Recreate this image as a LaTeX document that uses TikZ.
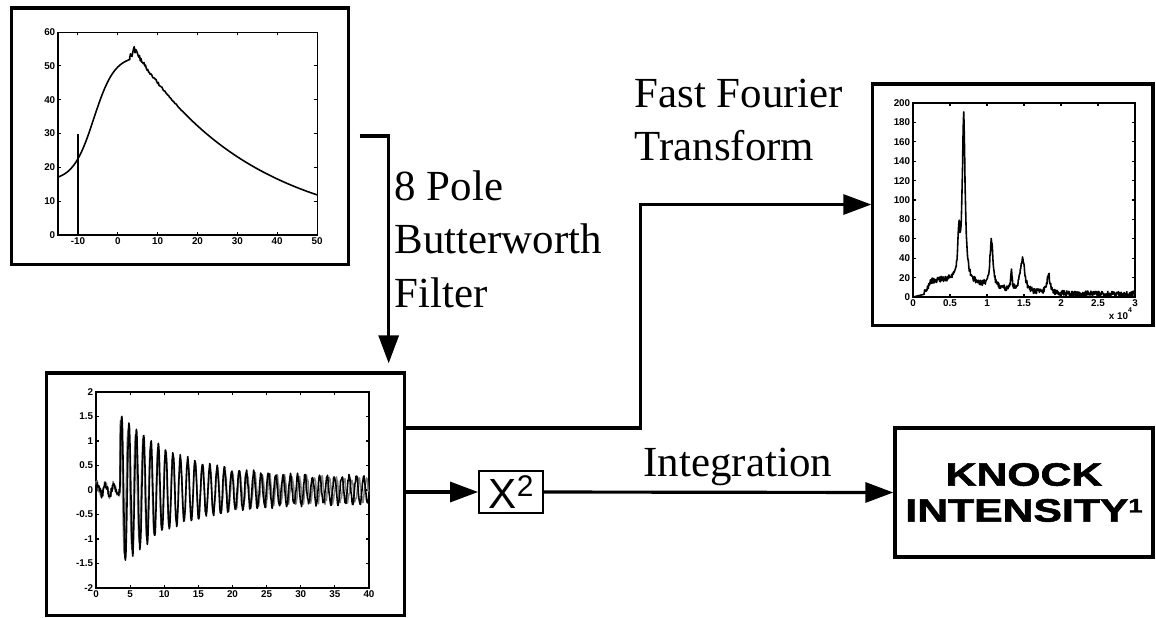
\documentclass[tikz,border=0pt]{standalone}
\usepackage{fontspec}
\setmainfont{Liberation Serif}
\setsansfont{Liberation Sans}
\newfontfamily\heavyfont[FakeBold=1.6]{Liberation Sans Bold}
\usetikzlibrary{arrows.meta,positioning}
\begin{document}
\begin{tikzpicture}[x=0.01cm,y=-0.01cm,
	frame/.style={draw,line width=0.9pt,inner sep=0pt},
	flow/.style={line width=0.9pt,-{Triangle[length=2.8mm,width=2mm]}},
	lbl/.style={font=\fontsize{12.2}{15.2}\selectfont,inner sep=0pt,align=left},
	tick/.style={font=\fontsize{2.8}{3}\sffamily\bfseries,inner sep=0.6pt},
	axis/.style={line width=0.3pt},
	trace/.style={line width=0.45pt,line join=round}]
	\useasboundingbox (0,0) rectangle (1156,617);
	\pgfmathsetseed{12}
	% frames
	\node[frame,minimum width=3.36cm,minimum height=2.56cm] (raw) at (180,136) {};
	\node[frame,minimum width=3.57cm,minimum height=2.42cm] (filt) at (225.5,494) {};
	\node[frame,minimum width=2.80cm,minimum height=2.41cm] (fft) at (1013,204.5) {};
	\node[draw,line width=0.5pt,minimum width=0.64cm,minimum height=0.42cm,inner sep=0pt,font=\fontsize{12}{14}\sffamily] (sq) at (511,492) {X\raisebox{3.2pt}{\fontsize{8.5}{9}\selectfont 2}};
	\node[frame,minimum width=2.58cm,minimum height=1.29cm,align=center,font=\fontsize{9.2}{10.2}\heavyfont] (knock) at (1024,492.5) {\scalebox{1.32}[1]{KNOCK}\\\scalebox{1.32}[1]{INTENSITY\raisebox{2.6pt}{\fontsize{5.5}{6}\selectfont 1}}};
	% connectors
	\draw[flow] ([xshift=1mm]raw.east) -| ([xshift=-1.7mm,yshift=0.8mm]filt.north east);
	\draw[flow] ([yshift=6.6mm]filt.east) -- ++(235,0) |- (fft.west);
	\draw[flow] (filt.east |- sq.west) -- (sq.west);
	\draw[flow] (sq.east) -- (knock.west);
	\node[lbl,anchor=north west] (bw) at (394,170) {8 Pole\\Butterworth\\Filter};
	\node[lbl,anchor=north west] (ff) at (634,78) {Fast Fourier\\Transform};
	\node[lbl,anchor=base west] (int) at (643,476) {Integration};
	% raw pressure trace
	\begin{scope}[shift={(117.8,235)},xscale=3.985,yscale=-3.383]
		\draw[axis] (-15,0) rectangle (50,60);
		\foreach \v [count=\i] in {-10,0,...,50}{
			\draw[axis] (\v,0) -- ++(0,0.9) (\v,60) -- ++(0,-0.9);
			\node[tick,below] (ra\i) at (\v,0) {\v};}
		\foreach \v [count=\i] in {0,10,...,60}{
			\draw[axis] (-15,\v) -- ++(0.75,0) (50,\v) -- ++(-0.75,0);
			\node[tick,left] (rb\i) at (-15,\v) {\v};}
		\draw[trace] (-10,0) -- (-10,30);
		\draw[trace] plot[domain=-15:3,samples=50] (\x,{16+37/(1+exp(-(\x+6)/2.6))})
			-- plot[domain=3:16,samples=70] (\x,{min(52+3*(\x-3),55*exp(-(\x-4)/30))+1.1*rand*exp(-(\x-3)/6)})
			-- plot[domain=16:50,samples=40] (\x,{55*exp(-(\x-4)/30)});
	\end{scope}
	% filtered signal
	\begin{scope}[shift={(96,490)},xscale=6.825,yscale=-49]
		\draw[axis] (0,-2) rectangle (40,2);
		\foreach \v [count=\i] in {0,5,...,40}{
			\draw[axis] (\v,-2) -- ++(0,0.06) (\v,2) -- ++(0,-0.06);
			\node[tick,below] (fa\i) at (\v,-2) {\v};}
		\foreach \v [count=\i] in {-2,-1.5,-1,-0.5,0,0.5,1,1.5,2}{
			\draw[axis] (0,\v) -- ++(0.44,0) (40,\v) -- ++(-0.44,0);
			\node[tick,left] (fb\i) at (0,\v) {\v};}
		\draw[trace,gray] plot[domain=0:3.5,samples=40] (\x,{0.12*sin(290*\x+60)+0.08*rand})
			-- plot[domain=3.5:40,samples=500] (\x,{(0.22+1.2*exp(-(\x-3.5)/8))*sin(330*(\x-3.5)+50)+0.06*rand});
		\draw[trace] plot[domain=0:3.5,samples=40] (\x,{0.1*sin(313*\x)+0.08*rand})
			-- plot[domain=3.5:40,samples=500] (\x,{(0.25+1.35*exp(-(\x-3.5)/8))*sin(335*(\x-3.5))+0.05*rand});
	\end{scope}
	% spectrum
	\begin{scope}[shift={(913,297)},xscale=74,yscale=-0.97]
		\draw[axis] (0,0) rectangle (3,200);
		\foreach \v [count=\i] in {0,0.5,1,1.5,2,2.5,3}{
			\draw[axis] (\v,0) -- ++(0,3) (\v,200) -- ++(0,-3);
			\node[tick,below] (sa\i) at (\v,0) {\v};}
		\foreach \v [count=\i] in {0,20,...,200}{
			\draw[axis] (0,\v) -- ++(0.04,0) (3,\v) -- ++(-0.04,0);
			\node[tick,left] (sb\i) at (0,\v) {\v};}
		\node[tick,anchor=north east] (sx) at (3.02,-8) {x 10\textsuperscript{4}};
		\draw[trace] (0,0) -- plot[domain=0.15:3,samples=500] (\x,{max(0,14*min(1,(\x-0.15)/0.1)*exp(-((\x-0.4)*(\x-0.4))/0.6)+3
			+170*0.0005/(0.0005+(\x-0.685)^2)+40*0.0003/(0.0003+(\x-0.62)^2)
			+48*0.0006/(0.0006+(\x-1.06)^2)+35*0.0012/(0.0012+(\x-1.48)^2)
			+18*0.0001/(0.0001+(\x-1.33)^2)
			+20*0.0006/(0.0006+(\x-1.83)^2)+3*rand)});
	\end{scope}
\end{tikzpicture}
\end{document}
